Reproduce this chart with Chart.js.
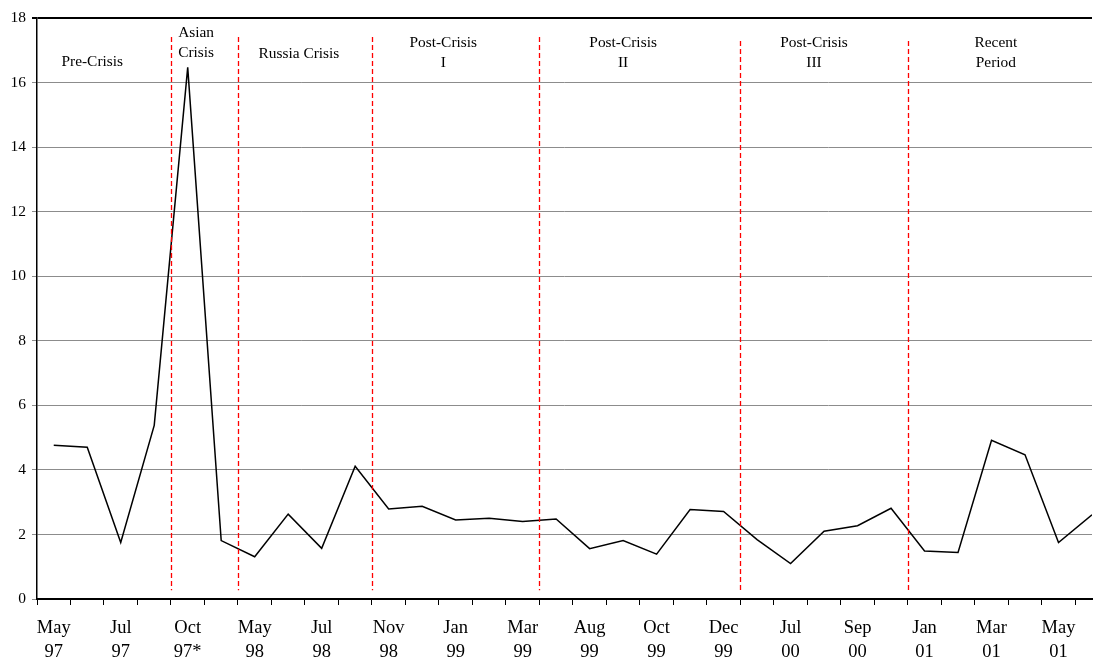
<!DOCTYPE html>
<html>
<head>
<meta charset="utf-8">
<script src="https://cdn.jsdelivr.net/npm/chart.js@4.4.0/dist/chart.umd.min.js"></script>
<style>
  html, body { margin: 0; padding: 0; background: #fff; }
  #wrap { width: 1096px; height: 657px; position: relative; }
</style>
</head>
<body>
<div id="wrap"><canvas id="spreadChart" width="1096" height="657"></canvas></div>
<script>
// monthly values, one per observation
const values = [
    4.76, 4.70, 1.75, 5.38, 16.47, 1.81, 1.31, 2.63, 1.57, 4.11,
    2.79, 2.87, 2.45, 2.50, 2.40, 2.48, 1.56, 1.81, 1.39, 2.77,
    2.71, 1.84, 1.10, 2.10, 2.27, 2.81, 1.49, 1.44, 4.92, 4.47,
    1.75, 2.61
];
// a label sits under every second observation
const tickLabels = [
    'May 97', 'Jul 97', 'Oct 97*', 'May 98', 'Jul 98', 'Nov 98', 'Jan 99', 'Mar 99',
    'Aug 99', 'Oct 99', 'Dec 99', 'Jul 00', 'Sep 00', 'Jan 01', 'Mar 01', 'May 01'
];
// period boundaries (between observations)
const boundaries = [3.5, 5.5, 9.5, 14.5, 20.5, 25.5];
const boundaryTops = [17.41, 17.41, 17.41, 17.41, 17.29, 17.29];
const periodNames = [
    ['Pre-Crisis'], ['Asian', 'Crisis'], ['Russia Crisis'], ['Post-Crisis', 'I'],
    ['Post-Crisis', 'II'], ['Post-Crisis', 'III'], ['Recent', 'Period']
];
const periodPos = [1.15, 4.25, 7.32, 11.63, 17.0, 22.7, 28.13];
const periodY = [16.63, 17.54, 16.9, 17.24, 17.24, 17.24, 17.24];

const serif = "'Liberation Serif', 'Times New Roman', serif";
Chart.defaults.font.family = serif;
Chart.defaults.color = '#000';

const periodPlugin = {
    id: 'periods',
    afterDatasetsDraw(chart) {
        const { ctx, scales: { x, y } } = chart;
        ctx.save();
        ctx.strokeStyle = '#ff0000';
        ctx.lineWidth = 1.3;
        ctx.setLineDash([5, 3]);
        boundaries.forEach((b, i) => {
            const px = Math.round(x.getPixelForValue(b)) + 0.5;
            ctx.beginPath();
            ctx.moveTo(px, y.getPixelForValue(boundaryTops[i]));
            ctx.lineTo(px, y.getPixelForValue(0.27));
            ctx.stroke();
        });
        ctx.setLineDash([]);
        ctx.fillStyle = '#000';
        ctx.font = '15.4px ' + serif;
        ctx.textAlign = 'center';
        ctx.textBaseline = 'middle';
        periodNames.forEach((lines, i) => {
            const px = x.getPixelForValue(periodPos[i]);
            const py = y.getPixelForValue(periodY[i]);
            lines.forEach((t, j) => ctx.fillText(t, px, py + j * 20));
        });
        ctx.restore();
    }
};

const ctxLine = document.getElementById('spreadChart');
new Chart(ctxLine, {
    type: 'line',
    data: {
        datasets: [{
            data: values.map((v, i) => ({ x: i, y: v })),
            borderColor: '#000',
            borderWidth: 1.5,
            pointRadius: 0,
            tension: 0,
            fill: false
        }]
    },
    options: {
        responsive: false,
        animation: false,
        layout: { padding: { top: 18, right: 4, left: 0, bottom: 0 } },
        plugins: { legend: { display: false }, tooltip: { enabled: false } },
        scales: {
            x: {
                type: 'linear',
                min: -0.5,
                max: 31,
                afterBuildTicks: (scale) => {
                    const t = [];
                    for (let v = -0.5; v <= 31; v += 0.5) t.push({ value: v });
                    scale.ticks = t;
                },
                afterFit: (scale) => {
                    scale.height = 58;
                    scale.paddingLeft = 0;
                    scale.paddingRight = 0;
                },
                border: { color: '#000', width: 2 },
                grid: {
                    drawOnChartArea: false,
                    tickLength: 6,
                    color: (c) => (c.tick && Math.abs(c.tick.value % 1) === 0.5) ? '#000' : 'rgba(0,0,0,0)',
                    lineWidth: 1
                },
                ticks: {
                    autoSkip: false,
                    maxRotation: 0,
                    padding: 12,
                    font: { size: 18.5, lineHeight: 1.25 },
                    color: '#000',
                    callback: (v) => {
                        if (v % 2 !== 0) return '';
                        const lbl = tickLabels[v / 2];
                        return lbl ? lbl.split(' ') : '';
                    }
                }
            },
            y: {
                min: 0,
                max: 18,
                afterFit: (scale) => { scale.width = 37; },
                border: { color: '#000', width: 1.5 },
                grid: {
                    tickLength: 5,
                    color: (c) => (c.tick && c.tick.value === 18) ? '#000' : '#8c8c8c',
                    lineWidth: (c) => (c.tick && c.tick.value === 18) ? 2 : 1
                },
                ticks: {
                    stepSize: 2,
                    padding: 6,
                    font: { size: 15.5 },
                    color: '#000'
                }
            }
        }
    },
    plugins: [periodPlugin]
});
</script>
</body>
</html>
